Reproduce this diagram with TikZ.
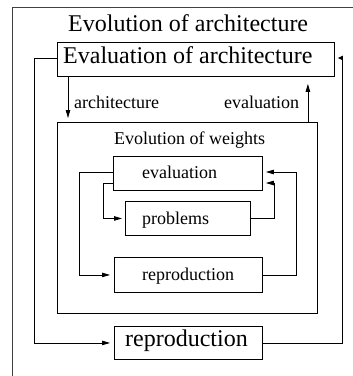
\documentclass[tikz,border=0pt]{standalone}
\usepackage{fontspec}
\setmainfont{Liberation Serif}
\usetikzlibrary{arrows.meta}

\begin{document}
\begin{tikzpicture}[x=1pt, y=-1pt,
  box/.style={draw, line width=0.9pt, inner sep=0pt, anchor=north west},
  big/.style={font=\fontsize{24}{26}\selectfont, inner sep=0pt, anchor=base west},
  small/.style={font=\fontsize{18}{20}\selectfont, inner sep=0pt, anchor=base west},
  arr/.style={-{Triangle[length=8pt,width=4.5pt]}, line width=0.8pt, shorten >=3pt},
  frame/.style={line width=0.9pt, black!75}
]
\useasboundingbox (0,0) rectangle (353,376);
\clip (0,0) rectangle (353,376);
\draw[frame] (12,7) rectangle (420,420);

\node[box, minimum width=277pt, minimum height=34pt] (archbox) at (57,42) {};
\node[box, minimum width=260pt, minimum height=191pt] (weightbox) at (57,122) {};
\node[box, minimum width=149pt, minimum height=34pt] (evalbox) at (113,156) {};
\node[box, minimum width=125pt, minimum height=34pt] (probbox) at (125,201) {};
\node[box, minimum width=148pt, minimum height=35pt] (reprobox) at (114,257) {};
\node[box, minimum width=148pt, minimum height=33pt] (reprobig) at (114,326) {};

\node[big] (title) at (68,31) {Evolution of architecture};
\node[big] (archtext) at (63,63.3) {Evaluation of architecture};
\node[small] (archlbl) at (74,108.3) {architecture};
\node[small] (evallbl) at (224,108.3) {evaluation};
\node[small] (weighttitle) at (114,144.3) {Evolution of weights};
\node[small] (evaltext) at (142,178.3) {evaluation};
\node[small] (probtext) at (142,224) {problems};
\node[small] (reprotext) at (142,280) {reproduction};
\node[big] (reprobigtext) at (125,346.7) {reproduction};

\draw[arr, shorten >=4pt] ([yshift=-16pt]archbox.north west)
  -| ([xshift=-80pt]reprobig.west) -- (reprobig.west);
\draw[arr, -{Triangle[length=5pt,width=4.5pt]}] (reprobig.east)
  -| ([xshift=7pt,yshift=-16pt]archbox.north east)
  -- ([yshift=-16pt]archbox.north east);
\draw[arr, shorten >=4pt] ([xshift=11pt]archbox.south west)
  -- ([xshift=11pt]weightbox.north west);
\draw[arr, shorten >=7pt] ([xshift=-10pt]weightbox.north east)
  -- ([xshift=-27pt]archbox.south east);

\draw[arr, shorten >=4pt] ([yshift=-16pt]evalbox.north west)
  -| ([xshift=-35pt]reprobox.west) -- (reprobox.west);
\draw[arr] ([yshift=-27pt]evalbox.north west)
  -| ([xshift=-22pt]probbox.west) -- (probbox.west);
\draw[arr] (probbox.east)
  -| ([xshift=11pt,yshift=-27pt]evalbox.north east)
  -- ([yshift=-27pt]evalbox.north east);
\draw[arr] (reprobox.east)
  -| ([xshift=33pt,yshift=-16pt]evalbox.north east)
  -- ([yshift=-16pt]evalbox.north east);
\end{tikzpicture}
\end{document}
